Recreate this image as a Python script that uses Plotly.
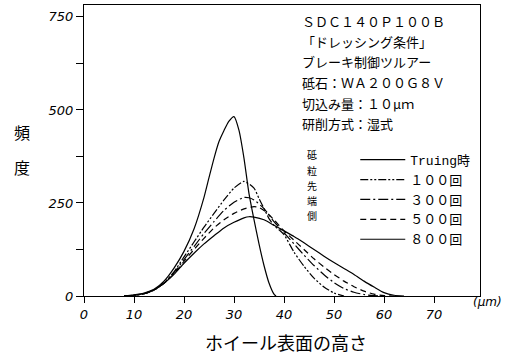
import plotly.graph_objects as go

# ---- data ----
x_truing = [8, 10, 12, 14, 16, 18, 20, 22, 24, 25, 26, 27, 28, 29, 30, 31, 32, 33, 34, 35, 36, 37, 38, 38.4]
y_truing = [0, 3, 8, 18, 40, 75, 120, 180, 265, 318, 370, 415, 445, 470, 482, 445, 370, 275, 205, 140, 82, 35, 5, 0]

x_100 = [8, 10, 12, 14, 16, 18, 20, 22, 24, 26, 28, 30, 32, 34, 35, 36, 37, 38, 39, 40, 42, 44, 46, 48, 50, 52]
y_100 = [0, 2, 6, 16, 35, 65, 105, 145, 185, 222, 258, 290, 308, 290, 262, 235, 208, 190, 178, 165, 118, 80, 48, 24, 8, 0]

x_300 = [8, 10, 12, 14, 16, 18, 20, 22, 24, 26, 28, 30, 32, 33, 34, 36, 38, 40, 42, 44, 46, 48, 50, 52, 54, 56, 58, 60]
y_300 = [0, 2, 6, 16, 35, 63, 98, 133, 168, 200, 230, 252, 265, 264, 258, 235, 200, 170, 140, 110, 82, 57, 36, 20, 10, 4, 1, 0]

x_500 = [8, 10, 12, 14, 16, 18, 20, 22, 24, 26, 28, 30, 32, 34, 35, 36, 38, 40, 42, 44, 46, 48, 50, 52, 54, 56, 58, 60, 62]
y_500 = [0, 2, 6, 16, 34, 60, 93, 125, 155, 183, 205, 222, 234, 240, 238, 230, 205, 175, 150, 125, 100, 78, 58, 40, 25, 13, 5, 1, 0]

x_800 = [8, 10, 12, 14, 16, 18, 20, 22, 24, 26, 28, 30, 32, 33, 34, 36, 38, 40, 42, 44, 46, 48, 50, 52, 54, 56, 58, 60, 62, 64]
y_800 = [0, 2, 6, 16, 34, 58, 88, 115, 140, 162, 183, 198, 210, 213, 212, 205, 190, 175, 160, 143, 125, 107, 90, 74, 58, 40, 24, 9, 2, 0]

series_names = ["Truing時", "１００回", "３００回", "５００回", "８００回"]
series_dash = ["solid", "8px,2px,2px,2px,2px,2px", "10px,3px,2px,3px", "6px,4px", "solid"]

x_ticks = [0, 10, 20, 30, 40, 50, 60, 70]
y_ticks = [0, 250, 500, 750]

info_lines = ["ＳＤＣ１４０Ｐ１００Ｂ", "「ドレッシング条件」", "ブレーキ制御ツルアー",
              "砥石：ＷＡ２００Ｇ８Ｖ", "切込み量：１０μｍ", "研削方式：湿式"]
side_label = "砥粒先端側"

# ---- figure ----
FONT = "Noto Sans CJK JP, DejaVu Sans, sans-serif"
fig = go.Figure()
all_x = [x_truing, x_100, x_300, x_500, x_800]
all_y = [y_truing, y_100, y_300, y_500, y_800]
for name, dash, xs, ys in zip(series_names, series_dash, all_x, all_y):
    fig.add_trace(go.Scatter(x=xs, y=ys, mode="lines", name=name,
                             line=dict(color="black", width=1.2, dash=dash, shape="spline", smoothing=0.6)))

fig.update_layout(
    width=510, height=355,
    margin=dict(l=84, r=30, t=5, b=59),
    paper_bgcolor="white", plot_bgcolor="white",
    font=dict(family=FONT, color="black"),
    showlegend=True,
    legend=dict(x=0.685, y=0.52, xanchor="left", yanchor="top",
                bgcolor="rgba(0,0,0,0)", borderwidth=0,
                font=dict(size=13, family="Liberation Mono, Noto Sans CJK JP, monospace"),
                itemwidth=45, tracegroupgap=0),
)
fig.update_xaxes(range=[0, 79.2], tickvals=x_ticks, ticks="outside", ticklen=6, tickwidth=1,
                 tickcolor="black", showline=True, linecolor="black", linewidth=1, mirror=True,
                 showgrid=False, zeroline=False,
                 tickfont=dict(size=13, style="italic", family="DejaVu Sans"))
fig.update_yaxes(range=[0, 782], tickvals=y_ticks, ticks="outside", ticklen=7, tickwidth=1,
                 tickcolor="black", showline=True, linecolor="black", linewidth=1, mirror=True,
                 showgrid=False, zeroline=False,
                 minor=dict(tickvals=[125, 375, 625], ticks="outside", ticklen=7, tickcolor="black"),
                 tickfont=dict(size=13, style="italic", family="DejaVu Sans"))

# info text block
for i, t in enumerate(info_lines):
    fig.add_annotation(text=t, xref="paper", yref="paper", x=(300 - 84) / 396,
                       y=(296 - (21 + 20.5 * i)) / 291, xanchor="left", yanchor="middle",
                       showarrow=False, font=dict(size=13, family=FONT))

# vertical 砥粒先端側 (one character per row)
for i, ch in enumerate(side_label):
    fig.add_annotation(text=ch, xref="paper", yref="paper",
                       x=(312 - 84) / 396, y=(296 - (155 + 15 * i)) / 291,
                       xanchor="center", yanchor="middle",
                       showarrow=False, font=dict(size=10, family=FONT, color="black"))

# y title
for ch, py in [("頻", 132), ("度", 167)]:
    fig.add_annotation(text=ch, xref="paper", yref="paper", x=(22 - 84) / 396,
                       y=(296 - py) / 291, xanchor="center", yanchor="middle",
                       showarrow=False, font=dict(size=16, family=FONT))

# x title
fig.add_annotation(text="ホイール表面の高さ", xref="paper", yref="paper", x=(286 - 84) / 396,
                   y=(296 - 342) / 291, xanchor="center", yanchor="middle",
                   showarrow=False, font=dict(size=18, family=FONT))

# unit
fig.add_annotation(text="(μm)", xref="paper", yref="paper", x=(487 - 84) / 396,
                   y=(296 - 302) / 291, xanchor="center", yanchor="middle",
                   showarrow=False, font=dict(size=12, style="italic", family="DejaVu Sans"))

fig.write_html("out.html", config={"displayModeBar": False},
               post_script="document.body.style.margin='0';document.body.style.padding='0';")
